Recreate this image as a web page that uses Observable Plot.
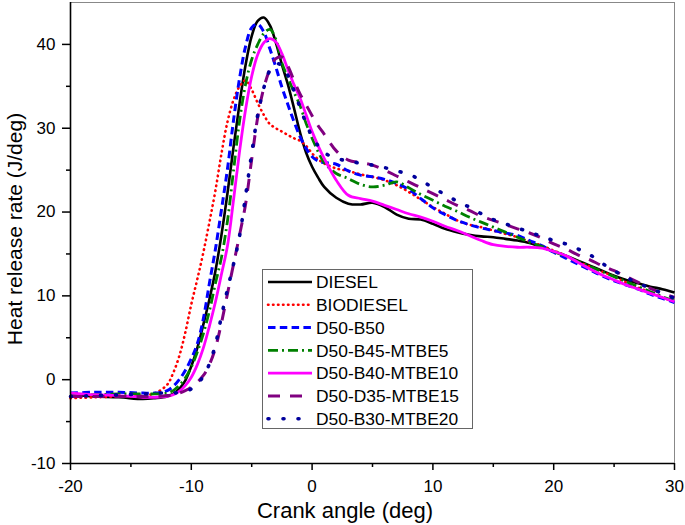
<!DOCTYPE html>
<html><head><meta charset="utf-8">
<script src="https://cdn.jsdelivr.net/npm/d3@7"></script>
<script src="https://cdn.jsdelivr.net/npm/@observablehq/plot@0.6"></script>
<style>body{margin:0;background:#fff} svg{font-family:"Liberation Sans",Arial,sans-serif}</style>
</head><body><div id="chart"></div>
<script>
// Crank angle (deg)
const crank = [-20,-18,-16,-14,-13,-12,-11.5,-11,-10.5,-10,-9.5,-9,-8.5,-8,-7.5,-7,-6.5,-6,-5.5,-5,-4.5,-4,-3.5,-3,-2.5,-2,-1.5,-1,-0.5,0,0.5,1,2,3,4,5,6,7,8,9,10,11,12,13,14,15,16,17,18,19,20,21,22,23,24,25,26,27,28,29,30];

const diesel = [-1.8,-2.0,-2.1,-2.3,-2.2,-2.0,-1.7,-1.1,-0.1,1.6,3.8,6.6,9.6,13.0,17.3,22.3,27.8,33.0,37.6,41.0,42.8,43.2,42.3,40.2,37.6,35.2,32.4,29.5,27.1,25.4,24.1,23.0,21.7,21.0,20.9,21.1,20.6,19.7,19.2,19.1,18.6,18.0,17.6,17.3,17.1,17.0,16.8,16.6,16.3,15.8,15.3,14.8,14.2,13.6,13.0,12.4,11.9,11.5,11.1,10.8,10.4];

const biodiesel = [-2.2,-2.1,-2.0,-1.9,-1.6,-0.6,0.8,2.8,5.6,9.0,12.0,15.2,18.8,22.6,27.0,30.8,33.4,35.0,35.7,34.6,33.0,31.6,30.5,30.0,29.6,29.2,28.8,28.5,27.9,27.0,26.3,25.8,25.2,24.9,24.5,24.2,23.8,23.2,22.4,21.5,20.6,19.8,19.0,18.5,18.2,17.8,17.4,17.0,16.5,16.0,15.4,14.8,14.1,13.5,12.9,12.3,11.6,11.0,10.4,9.8,9.3];

const d50b50 = [-1.6,-1.5,-1.5,-1.6,-1.6,-1.3,-0.8,0.0,1.1,2.5,4.3,7.3,11.5,15.6,20.3,25.2,31.0,36.0,39.8,42.0,42.4,41.5,39.5,37.3,34.9,32.8,30.8,29.0,27.6,26.6,26.1,25.9,25.7,24.9,24.4,24.2,23.9,23.4,22.7,21.6,20.5,19.7,19.0,18.5,18.1,17.8,17.5,17.2,16.6,16.0,15.2,14.5,13.8,13.1,12.4,11.8,11.3,10.8,10.2,9.7,9.2];

const d50b45m5 = [-1.8,-1.8,-1.7,-1.7,-1.7,-1.6,-1.3,-0.7,0.2,1.5,3.3,5.5,8.2,11.5,14.6,19.0,25.0,30.9,35.3,38.2,40.0,41.3,41.8,40.6,37.8,36.0,34.3,32.7,30.6,28.8,27.2,25.9,24.6,24.0,23.3,23.0,23.2,23.6,22.9,22.1,21.4,20.7,20.1,19.4,18.8,18.2,17.6,17.0,16.4,15.9,15.3,14.7,14.1,13.5,12.9,12.3,11.7,11.1,10.5,9.9,9.4];

const d50b40m10 = [-1.6,-1.8,-1.9,-2.1,-2.1,-2.0,-1.8,-1.4,-0.7,0.3,1.8,3.8,6.4,9.3,12.6,16.0,21.5,27.3,32.3,36.2,38.8,40.2,40.7,40.3,38.9,37.0,35.2,33.6,31.6,29.6,27.9,26.4,23.8,22.0,21.6,21.3,20.8,20.3,19.8,19.4,18.9,18.3,17.8,17.2,16.6,16.1,15.9,15.8,15.8,15.7,15.3,14.8,14.0,13.2,12.5,11.9,11.3,10.8,10.3,9.8,9.3];

const d50d35m15 = [-2.0,-2.0,-2.0,-2.0,-2.0,-1.9,-1.8,-1.6,-1.3,-0.9,-0.3,0.5,1.8,3.8,6.8,10.3,13.8,17.3,21.0,26.3,31.3,34.8,37.0,38.3,38.5,37.4,35.7,34.1,32.8,31.5,30.3,29.3,27.3,26.2,25.9,25.6,25.0,24.3,23.6,22.9,22.2,21.5,20.8,20.2,19.5,19.0,18.5,18.0,17.5,16.9,16.2,15.6,14.9,14.3,13.6,13.0,12.3,11.6,10.9,10.3,9.8];

const d50b30m20 = [-2.0,-1.9,-1.8,-1.7,-1.6,-1.6,-1.6,-1.5,-1.4,-1.1,-0.5,0.4,1.9,4.2,7.6,10.8,13.8,17.2,22.0,27.0,31.6,34.8,36.9,37.7,37.5,36.3,34.5,32.5,30.6,29.0,27.9,27.1,26.4,26.1,25.8,25.6,25.3,24.9,24.5,23.8,22.9,22.1,21.3,20.6,19.8,19.1,18.6,18.1,17.6,17.1,16.6,16.2,15.6,14.9,13.9,13.0,12.2,11.5,10.9,10.3,9.7];

const seriesNames = ["DIESEL","BIODIESEL","D50-B50","D50-B45-MTBE5","D50-B40-MTBE10","D50-D35-MTBE15","D50-B30-MTBE20"];
const seriesValues = [diesel, biodiesel, d50b50, d50b45m5, d50b40m10, d50d35m15, d50b30m20];
const seriesColors = ["#000000","#ff0000","#0000ff","#008000","#ff00ff","#800080","#00009c"];
const seriesDash = [null,"0.5,4.5","7.5,4.3","10,4,2,4",null,"12,10","1,14"];
const seriesWidth = [2.6,2.6,3,2.8,2.8,3,3.6];
const seriesCap = ["butt","round","butt","butt","butt","butt","round"];

const xTicks = [-20,-10,0,10,20,30];
const xMinor = [-15,-5,5,15,25];
const yTicks = [-10,0,10,20,30,40];
const yMinor = [-5,5,15,25,35];

const lineMarks = seriesNames.map((name, k) => {
  const data = crank.map((c, i) => ({x: c, y: seriesValues[k][i]}));
  return Plot.line(data, {x: "x", y: "y", curve: "catmull-rom", stroke: seriesColors[k],
    strokeWidth: seriesWidth[k], strokeDasharray: seriesDash[k] || undefined,
    strokeLinecap: seriesCap[k], strokeLinejoin: "round"});
});

const chart = Plot.plot({
  width: 685, height: 525,
  marginLeft: 70, marginRight: 11, marginTop: 2, marginBottom: 62,
  style: {fontFamily: "'Liberation Sans', Arial, sans-serif", fontSize: "17px", color: "#000", background: "#fff"},
  x: {domain: [-20, 30]},
  y: {domain: [-10, 45]},
  marks: [
    Plot.ruleY([45], {stroke: "#888", strokeWidth: 1}),
    Plot.ruleX([30], {stroke: "#888", strokeWidth: 1}),
    ...lineMarks,
    Plot.axisX(xTicks, {tickSize: 7, tickPadding: 9, fontSize: 17, strokeWidth: 1.5, label: null, tickFormat: d => String(d)}),
    Plot.axisX(xMinor, {tickSize: 4, strokeWidth: 1.5, label: null, tickFormat: () => ""}),
    Plot.axisY(yTicks, {tickSize: 8, tickPadding: 7, fontSize: 17, strokeWidth: 1.5, label: null, tickFormat: d => String(d)}),
    Plot.axisY(yMinor, {tickSize: 4, strokeWidth: 1.5, label: null, tickFormat: () => ""}),
    Plot.ruleY([-10], {stroke: "#000", strokeWidth: 1.6}),
    Plot.ruleX([-20], {stroke: "#000", strokeWidth: 1.6})
  ]
});

const svg = d3.select(chart);
// axis titles
svg.append("text").attr("x", 345).attr("y", 518).attr("text-anchor", "middle")
  .attr("font-size", 22).attr("fill", "#000").text("Crank angle (deg)");
svg.append("text").attr("transform", "translate(22,229) rotate(-90)").attr("text-anchor", "middle")
  .attr("font-size", 21).attr("fill", "#000").text("Heat release rate (J/deg)");

// legend
const lg = svg.append("g").attr("text-anchor", "start");
lg.append("rect").attr("x", 262.5).attr("y", 269.5).attr("width", 210).attr("height", 159)
  .attr("fill", "#fff").attr("stroke", "#666").attr("stroke-width", 1);
seriesNames.forEach((name, k) => {
  const yy = 282 + k * 22.8;
  lg.append("line").attr("x1", 268).attr("x2", 312).attr("y1", yy).attr("y2", yy)
    .attr("stroke", seriesColors[k]).attr("stroke-width", seriesWidth[k])
    .attr("stroke-dasharray", seriesDash[k]).attr("stroke-linecap", seriesCap[k]);
  lg.append("text").attr("x", 316).attr("y", yy).attr("dy", "0.36em")
    .attr("text-anchor", "start")
    .attr("font-size", 17.4).attr("fill", "#000").text(name);
});

document.getElementById("chart").appendChild(chart);
</script></body></html>
